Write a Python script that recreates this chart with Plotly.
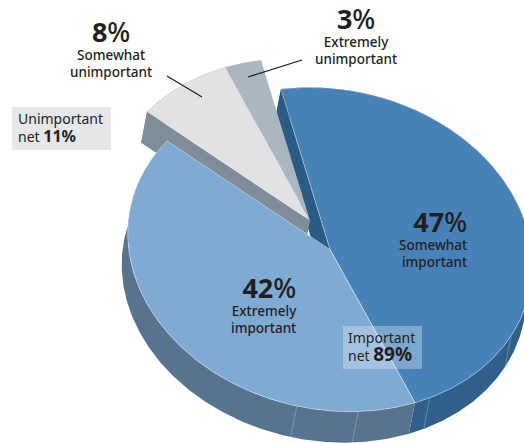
import math
import plotly.graph_objects as go

# --- data ---
main_labels = ["Somewhat important", "Extremely important"]
main_values = [47, 42]
minor_labels = ["Somewhat unimportant", "Extremely unimportant"]
minor_values = [8, 3]
net_labels = ["Unimportant", "Important"]
net_values = [11, 89]

# --- projection of the tilted disc ---
CX, CY = 330, 249.5
RX, RY = 204, 160
TILT = math.radians(12)
START = -23.5
EXTRUDE = (-6, 31)
EXPLODE = (-20, -29)
SEAMS = [180, 162.5, 141, 107]


def rim(theta, off=(0, 0)):
    t = math.radians(theta)
    X, Y = RX * math.sin(t), -RY * math.cos(t)
    return (CX + off[0] + X * math.cos(TILT) - Y * math.sin(TILT),
            CY + off[1] + X * math.sin(TILT) + Y * math.cos(TILT))


def arc(a, b, off=(0, 0)):
    n = max(2, int(abs(b - a) * 2))
    return [rim(a + (b - a) * i / n, off) for i in range(n + 1)]


def add(fig, pts, color, line="rgba(255,255,255,0)", width=0):
    fig.add_trace(go.Scatter(
        x=[p[0] for p in pts] + [pts[0][0]], y=[p[1] for p in pts] + [pts[0][1]],
        mode="lines", fill="toself", fillcolor=color,
        line=dict(color=line, width=width), hoverinfo="skip", showlegend=False))


def shifted(off, d):
    return (off[0] + d[0], off[1] + d[1])


TOTAL = sum(main_values) + sum(minor_values)
deg = [v / TOTAL * 360 for v in main_values + minor_values]
a0 = START
a1 = a0 + deg[0]
a2 = a1 + deg[1]
a3 = a2 + deg[2]
a4 = a3 + deg[3]

fig = go.Figure()
RIMLINE = "rgba(255,255,255,0.55)"

# side bands of the big slices
add(fig, arc(a0, a1) + arc(a1, a0, EXTRUDE), "#2f6089")
add(fig, arc(a1, a2) + arc(a2, a1, EXTRUDE), "#58738f")
# inner cut face of the blue slice
c = (CX, CY)
add(fig, [rim(a0), c, (CX + EXTRUDE[0], CY + EXTRUDE[1]), rim(a0, EXTRUDE)], "#2b5a85")
# exploded slices: extruded side and cut face
ec = (CX + EXPLODE[0], CY + EXPLODE[1])
ex2 = shifted(EXPLODE, EXTRUDE)
ec2 = (ec[0] + EXTRUDE[0], ec[1] + EXTRUDE[1])
add(fig, [ec, rim(a2, EXPLODE), rim(a2, ex2), ec2], "#7f8d99")
add(fig, arc(a2, a3, EXPLODE) + arc(a3, a2, ex2), "#7f8d99")

# seams on the side
for s in SEAMS:
    p, q = rim(s), rim(s, EXTRUDE)
    fig.add_trace(go.Scatter(x=[p[0], q[0]], y=[p[1], q[1]], mode="lines",
                             line=dict(color="rgba(255,255,255,0.3)", width=0.8),
                             hoverinfo="skip", showlegend=False))

# top faces
add(fig, [c] + arc(a0, a1), "#4682b7", RIMLINE, 0.7)
add(fig, [c] + arc(a1, a2), "#7faad3", RIMLINE, 0.7)
add(fig, [ec] + arc(a2, a3, EXPLODE), "#e1e2e4")
add(fig, [ec] + arc(a3, a4, EXPLODE), "#abb7be")

# leader lines
leaders = [((167, 76), (202, 97)), ((248, 77), (302, 60))]
for p, q in leaders:
    fig.add_trace(go.Scatter(x=[p[0], q[0]], y=[p[1], q[1]], mode="lines",
                             line=dict(color="#231f20", width=1.3),
                             hoverinfo="skip", showlegend=False))

FONT = "Noto Sans"
INK = "#231f20"


def txt(x, y, s, size, anchor="center", align="center", weight=500):
    fig.add_annotation(x=x, y=y, text=s, showarrow=False, xanchor=anchor, yanchor="middle",
                       align=align, font=dict(family=FONT, size=size, color=INK, weight=weight),
                       xref="x", yref="y", borderpad=0, borderwidth=0)


# slice labels: big number and two-line caption in one text block
for v, lab, (x, y, anc) in zip(
        main_values + minor_values, main_labels + minor_labels,
        [(467, 236.5, "right"), (297, 303, "right"), (111, 46.5, "center"), (356, 34, "center")]):
    w1, w2 = lab.split(" ")
    txt(x, y, f'<span style="font-size:27px"><b>{v}</b>%</span><br>{w1}<br>{w2}', 13.5, anc, anc)

# net boxes
fig.add_shape(type="rect", x0=12, x1=111, y0=107, y1=150, fillcolor="#e6e7e8",
              line_width=0, layer="above")
fig.add_shape(type="rect", x0=343, x1=422, y0=326, y1=369,
              fillcolor="rgba(255,255,255,0.3)", line_width=0, layer="above")
txt(18, 128, f'{net_labels[0]}<br>net <span style="font-size:16px"><b>{net_values[0]}%</b></span>', 14, "left", "left", 400)
txt(348, 347, f'{net_labels[1]}<br>net <span style="font-size:19px"><b>{net_values[1]}%</b></span>', 14, "left", "left", 400)

fig.update_layout(
    width=524, height=443, margin=dict(l=0, r=0, t=0, b=0),
    paper_bgcolor="white", plot_bgcolor="white", showlegend=False,
    xaxis=dict(range=[0, 524], visible=False, fixedrange=True),
    yaxis=dict(range=[443, 0], visible=False, fixedrange=True),
)
fig.write_html("out.html", config={"displayModeBar": False},
               post_script="document.body.style.margin='0';document.documentElement.style.overflow='hidden';")
